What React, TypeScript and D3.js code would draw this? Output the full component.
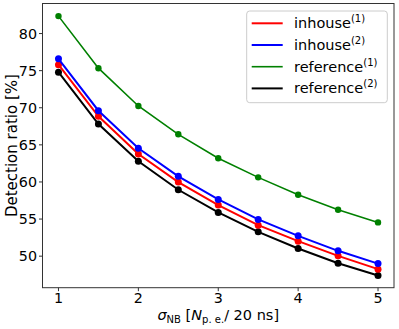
import React from "react";
import * as d3 from "d3";

const xs = [1, 1.5, 2, 2.5, 3, 3.5, 4, 4.5, 5];
const inhouse1 = [75.8, 68.85, 63.77, 59.99, 56.88, 54.18, 52.02, 50.04, 48.25];
const inhouse2 = [76.6, 69.6, 64.53, 60.76, 57.65, 54.95, 52.74, 50.72, 49.0];
const reference1 = [82.35, 75.33, 70.24, 66.42, 63.2, 60.62, 58.27, 56.25, 54.55];
const reference2 = [74.79, 67.81, 62.78, 58.95, 55.9, 53.28, 51.04, 49.05, 47.4];
const xTicks = [1, 2, 3, 4, 5];
const yTicks = [50, 55, 60, 65, 70, 75, 80];

const series = [
  { name: "inhouse", sup: "(1)", values: inhouse1, color: "#ff0000", lw: 2, r: 3.5 },
  { name: "inhouse", sup: "(2)", values: inhouse2, color: "#0000ff", lw: 2, r: 3.5 },
  { name: "reference", sup: "(1)", values: reference1, color: "#008000", lw: 1.6, r: 3.2 },
  { name: "reference", sup: "(2)", values: reference2, color: "#000000", lw: 2, r: 3.5 },
];

const W = 399, H = 329;
const L = 42.5, R = 394, T = 3.5, B = 287.7;
const font = "DejaVu Sans, sans-serif";
const FS = 14.3;

export default function App() {
  const x = d3.scaleLinear().domain([0.8, 5.2]).range([L, R]);
  const y = d3.scaleLinear().domain([45.75, 84.05]).range([B, T]);
  const line = d3.line<number>().x((_, i) => x(xs[i])).y((v) => y(v));
  const draw = [series[2], series[3], series[0], series[1]];
  return (
    <svg width={W} height={H} style={{ position: "absolute", left: 0, top: 0 }} fontFamily={font}>
      <rect x={0} y={0} width={W} height={H} fill="#fff" />
      {draw.map((s, k) => (
        <g key={k}>
          <path d={line(s.values) || ""} fill="none" stroke={s.color} strokeWidth={s.lw} />
          {s.values.map((v, i) => (
            <circle key={i} cx={x(xs[i])} cy={y(v)} r={s.r} fill={s.color} />
          ))}
        </g>
      ))}
      <rect x={L} y={T} width={R - L} height={B - T} fill="none" stroke="#333" strokeWidth={1} />
      {xTicks.map((t) => (
        <g key={t}>
          <line x1={x(t)} x2={x(t)} y1={B} y2={B + 3.5} stroke="#333" />
          <text x={x(t)} y={B + 15.5} textAnchor="middle" fontSize={FS} fill="#000">{t}</text>
        </g>
      ))}
      {yTicks.map((t) => (
        <g key={t}>
          <line x1={L - 3.5} x2={L} y1={y(t)} y2={y(t)} stroke="#333" />
          <text x={L - 5.5} y={y(t) + 5.2} textAnchor="end" fontSize={FS} fill="#000">{t}</text>
        </g>
      ))}
      <text transform={`translate(17,${(T + B) / 2}) rotate(-90)`} textAnchor="middle" fontSize={15} fill="#000">
        Detection ratio [%]
      </text>
      <text x={(L + R) / 2} y={320} textAnchor="middle" fontSize={14.5} fill="#000">
        <tspan fontStyle="italic">σ</tspan>
        <tspan fontSize={10} dy={2.5}>NB</tspan>
        <tspan dy={-2.5}> [</tspan>
        <tspan fontStyle="italic">N</tspan>
        <tspan fontSize={10} dy={2.5}>p. e.</tspan>
        <tspan dy={-2.5}>/ 20 ns]</tspan>
      </text>
      <rect x={246.7} y={11} width={140.6} height={91.7} rx={3} fill="#fff" fillOpacity={0.8} stroke="#ccc" strokeWidth={1} />
      {series.map((s, i) => {
        const ry = 23.3 + i * 21.7;
        return (
          <g key={i}>
            <line x1={251.7} x2={282.7} y1={ry} y2={ry} stroke={s.color} strokeWidth={s.lw} />
            <text x={294} y={ry + 5} fontSize={14.5} fill="#000">
              {s.name}
              <tspan fontSize={10} dy={-6}>{s.sup}</tspan>
            </text>
          </g>
        );
      })}
    </svg>
  );
}
